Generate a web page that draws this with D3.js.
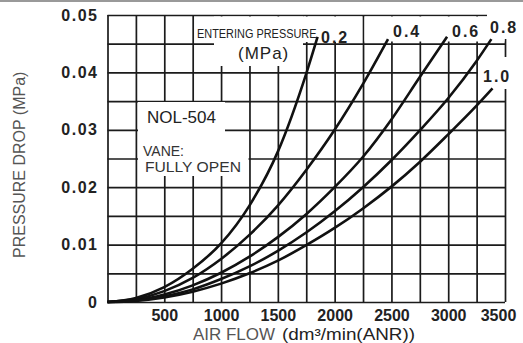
<!DOCTYPE html>
<html>
<head>
<meta charset="utf-8">
<script src="https://d3js.org/d3.v7.min.js"></script>
<style>
  body { margin: 0; background: #fff; }
  text { font-family: "Liberation Sans", Arial, sans-serif; }
</style>
</head>
<body>
<script>
// entering pressure curves (air flow dm3/min, pressure drop MPa)
const flow02 = [0, 250, 500, 750, 1000, 1250, 1500, 1750, 1850];
const drop02 = [0, 0.0007, 0.0026, 0.0058, 0.0102, 0.0168, 0.0262, 0.0398, 0.0462];
const flow04 = [0, 250, 500, 750, 1000, 1250, 1500, 1750, 2000, 2250, 2470];
const drop04 = [0, 0.0005, 0.0019, 0.0042, 0.0075, 0.0117, 0.0168, 0.0230, 0.0300, 0.0380, 0.0458];
const flow06 = [0, 250, 500, 750, 1000, 1250, 1500, 1750, 2000, 2250, 2500, 2750, 2990];
const drop06 = [0, 0.0003, 0.0013, 0.0029, 0.0051, 0.0079, 0.0113, 0.0153, 0.0200, 0.0253, 0.0318, 0.0392, 0.0462];
const flow08 = [0, 250, 500, 750, 1000, 1250, 1500, 1750, 2000, 2250, 2500, 2750, 3000, 3250, 3380];
const drop08 = [0, 0.00025, 0.0010, 0.0022, 0.0040, 0.0062, 0.0089, 0.0121, 0.0158, 0.0200, 0.0247, 0.0299, 0.0355, 0.0420, 0.0458];
const flow10 = [0, 250, 500, 750, 1000, 1250, 1500, 1750, 2000, 2250, 2500, 2750, 3000, 3250, 3390];
const drop10 = [0, 0.0002, 0.0008, 0.0018, 0.0032, 0.0050, 0.0072, 0.0099, 0.0129, 0.0163, 0.0201, 0.0244, 0.0292, 0.0342, 0.0372];

const pressureLabels = ["0.2", "0.4", "0.6", "0.8", "1.0"];
const xTicks = [500, 1000, 1500, 2000, 2500, 3000, 3500];
const yTicks = [0, 0.01, 0.02, 0.03, 0.04, 0.05];
const xGrid = d3.range(0, 3501, 250);
const yGrid = d3.range(0, 0.0501, 0.005);

const W = 523, H = 343;
const pLeft = 107.5, pRight = 505, pTop = 15, pBottom = 302;

const x = d3.scaleLinear().domain([0, 3500]).range([pLeft, pRight]);
const y = d3.scaleLinear().domain([0, 0.05]).range([pBottom, pTop]);

const svg = d3.select("body").append("svg")
  .attr("width", W).attr("height", H);

svg.append("rect").attr("width", W).attr("height", H).attr("fill", "#fff");

// scan edge at the very top
svg.append("line").attr("x1", 0).attr("x2", W).attr("y1", 1).attr("y2", 1)
  .attr("stroke", "#999").attr("stroke-width", 2);

// grid
const gridCol = "#1b1b1b";
const gx = svg.append("g")
  .attr("transform", "translate(0," + pBottom + ")")
  .call(d3.axisBottom(x).tickValues(xGrid).tickSize(-(pBottom - pTop)).tickFormat(""));
const gy = svg.append("g")
  .attr("transform", "translate(" + pLeft + ",0)")
  .call(d3.axisLeft(y).tickValues(yGrid).tickSize(-(pRight - pLeft)).tickFormat(""));
[gx, gy].forEach(g => {
  g.select(".domain").remove();
  g.selectAll("line").attr("stroke", gridCol).attr("stroke-width", 1.7);
});

// white areas behind the labels
const masks = [
  [214, 303, 16.5, 66],
  [304, 362, 16.5, 42],
  [364.5, 504.5, 16.5, 41.5],
  [487, 515, 10, 39],
  [478, 515, 57, 89],
  [138, 225, 102, 176],
  [138, 248.5, 132, 176]
];
svg.append("g").selectAll("rect").data(masks).join("rect")
  .attr("x", d => d[0]).attr("y", d => d[2])
  .attr("width", d => d[1] - d[0]).attr("height", d => d[3] - d[2])
  .attr("fill", "#fff");

// curves
const series = [
  [flow02, drop02], [flow04, drop04], [flow06, drop06], [flow08, drop08], [flow10, drop10]
];
const line = d3.line()
  .x(d => x(d[0])).y(d => y(d[1]))
  .curve(d3.curveMonotoneX);
svg.append("g").selectAll("path").data(series).join("path")
  .attr("d", s => line(s[0].map((f, i) => [f, s[1][i]])))
  .attr("fill", "none").attr("stroke", "#111").attr("stroke-width", 2.6);

// axis labels
const yAxis = svg.append("g")
  .attr("transform", "translate(" + pLeft + ",0)")
  .call(d3.axisLeft(y).tickValues(yTicks).tickSize(0).tickPadding(9)
    .tickFormat(d => d === 0 ? "0" : d3.format(".2f")(d)));
const xAxis = svg.append("g")
  .attr("transform", "translate(0," + pBottom + ")")
  .call(d3.axisBottom(x).tickValues(xTicks).tickSize(0).tickPadding(8).tickFormat(d3.format("d")));
[xAxis, yAxis].forEach(g => {
  g.select(".domain").remove();
  g.attr("font-family", null).attr("font-size", null);
  g.selectAll("text").attr("font-size", 16).attr("font-weight", "bold").attr("fill", "#222");
});
yAxis.selectAll("text").attr("letter-spacing", 1.5);
xAxis.selectAll("text").filter(d => d === 3500).attr("dx", -7);

// axis titles
svg.append("text").attr("x", 193).attr("y", 340)
  .attr("font-size", 16).attr("fill", "#555")
  .attr("textLength", 82).attr("lengthAdjust", "spacingAndGlyphs")
  .text("AIR FLOW");
svg.append("text").attr("x", 282).attr("y", 340)
  .attr("font-size", 16).attr("fill", "#222")
  .attr("textLength", 133).attr("lengthAdjust", "spacingAndGlyphs")
  .text("(dm³/min(ANR))");
svg.append("text")
  .attr("transform", "translate(25,258) rotate(-90)")
  .attr("font-size", 16).attr("fill", "#555")
  .text("PRESSURE DROP (MPa)");

// annotations
svg.append("text")
  .attr("transform", "translate(197,38) scale(0.84,1)")
  .attr("font-size", 13).attr("fill", "#222")
  .text("ENTERING PRESSURE");
svg.append("text").attr("x", 238).attr("y", 59)
  .attr("font-size", 17).attr("fill", "#222").attr("letter-spacing", 1)
  .text("(MPa)");

const labelPos = [[321, 43], [393, 37], [452, 37], [490, 33], [483, 82]];
svg.append("g").selectAll("text").data(pressureLabels).join("text")
  .attr("x", (d, i) => labelPos[i][0]).attr("y", (d, i) => labelPos[i][1])
  .attr("font-size", 16).attr("font-weight", "bold").attr("fill", "#222")
  .attr("letter-spacing", 2)
  .text(d => d);

svg.append("text").attr("x", 147).attr("y", 123)
  .attr("font-size", 17).attr("fill", "#222").text("NOL-504");
svg.append("text").attr("x", 143).attr("y", 156)
  .attr("font-size", 14).attr("fill", "#333").text("VANE:");
svg.append("text").attr("x", 145).attr("y", 172)
  .attr("font-size", 14).attr("fill", "#333")
  .attr("textLength", 96).attr("lengthAdjust", "spacingAndGlyphs")
  .text("FULLY OPEN");
</script>
</body>
</html>
